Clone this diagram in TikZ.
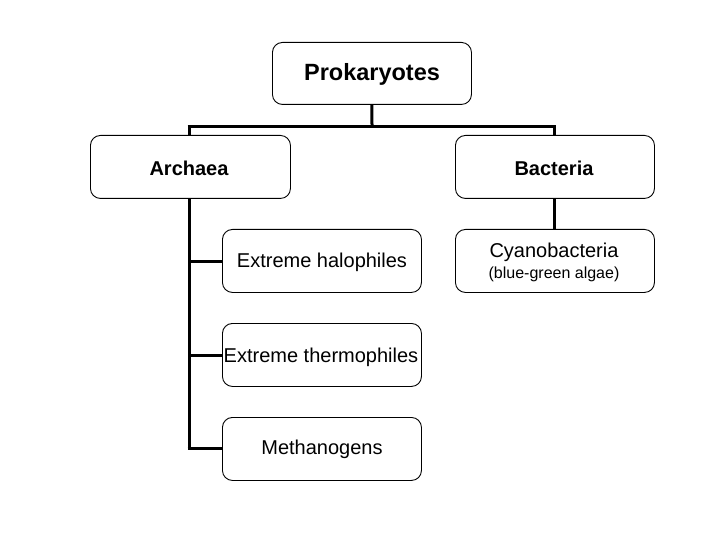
\documentclass[tikz,border=0pt]{standalone}
\usepackage{fontspec}
\setmainfont{Liberation Sans}
\begin{document}
\begin{tikzpicture}[x=1pt,y=-1pt,
  box/.style={draw=black,line width=0.9pt,rounded corners=10pt,minimum width=199pt,minimum height=62pt,inner sep=0pt,anchor=north west},
  conn/.style={line width=3pt,line cap=butt}]
\useasboundingbox[fill=white] (0,0) rectangle (720,540);
\node[box] (prok) at (272,42) {};
\node[font=\fontsize{23.5}{26}\selectfont\bfseries] (prokt) at (372,74) {Prokaryotes};
\node[box,minimum width=200pt,minimum height=63pt] (arch) at (90,135) {};
\node[font=\fontsize{20}{23}\selectfont\bfseries] (archt) at (189,168) {Archaea};
\node[box,minimum height=63pt] (bact) at (455,135) {};
\node[font=\fontsize{20}{23}\selectfont\bfseries] (bactt) at (554,168) {Bacteria};
\node[box,minimum height=63pt] (halo) at (222,229) {};
\node[font=\fontsize{20}{23}\selectfont] (halot) at (322,262) {Extreme halophiles};
\node[box,minimum height=63pt] (thermo) at (222,323) {};
\node[font=\fontsize{20}{23}\selectfont] (thermot) at (321,357) {Extreme thermophiles};
\node[box,minimum height=63pt] (meth) at (222,417) {};
\node[font=\fontsize{20}{23}\selectfont] (metht) at (322,449.5) {Methanogens};
\node[box,minimum height=63pt] (cyan) at (455,229) {};
\node[font=\fontsize{20}{23}\selectfont] (cyant) at (554,252.5) {Cyanobacteria};
\node[font=\fontsize{16}{18}\selectfont] (cyans) at (554,274) {(blue-green algae)};
\coordinate (j) at (372,127);
\coordinate (ja) at (189,127);
\coordinate (jb) at (554,127);
\draw[conn] (prok.south) -- (372,126);
\draw[conn] (187.5,127) -- (555.5,127);
\draw[conn] (ja) -- (arch.north -| ja);
\draw[conn] (jb) -- (bact.north -| jb);
\draw[conn] (bact.south -| jb) -- (cyan.north -| jb);
\coordinate (a1) at (189,261);
\coordinate (a2) at (189,355);
\coordinate (a3) at (189,448);
\draw[conn] (arch.south -| ja) -- (189,449.5);
\draw[conn] (a1) -- (halo.west |- a1);
\draw[conn] (a2) -- (thermo.west |- a2);
\draw[conn] (187.5,448) -- (meth.west |- a3);
\end{tikzpicture}
\end{document}
